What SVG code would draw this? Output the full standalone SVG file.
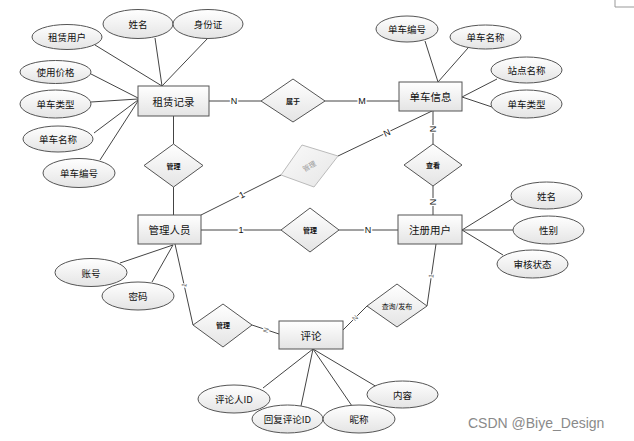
<svg xmlns="http://www.w3.org/2000/svg" width="634" height="441" viewBox="0 0 634 441">
<defs>
<linearGradient id="g" x1="0" y1="0" x2="0" y2="1">
<stop offset="0" stop-color="#ffffff"/>
<stop offset="1" stop-color="#e4e4e4"/>
</linearGradient>
<linearGradient id="g2" x1="0" y1="0" x2="1" y2="1">
<stop offset="0" stop-color="#fafafa"/>
<stop offset="1" stop-color="#e6e6e6"/>
</linearGradient>
</defs>
<style>
.e{fill:url(#g);stroke:#555;stroke-width:1}
.a{fill:url(#g);stroke:#555;stroke-width:1}
.d{fill:url(#g);stroke:#555;stroke-width:1}
.t{font-family:"Noto Sans CJK SC","Liberation Sans",sans-serif;font-size:10.5px;fill:#111;text-anchor:middle;dominant-baseline:central}
.at{font-family:"Noto Sans CJK SC","Liberation Sans",sans-serif;font-size:9.5px;fill:#111;text-anchor:middle;dominant-baseline:central}
.dt{font-family:"Noto Sans CJK SC","Liberation Sans",sans-serif;font-size:7px;font-weight:bold;fill:#111;text-anchor:middle;dominant-baseline:central}
.c line{stroke:#444;stroke-width:1}
.l{font-family:"Liberation Sans",sans-serif;font-size:9px;fill:#111;text-anchor:middle;dominant-baseline:central;paint-order:stroke;stroke:#fff;stroke-width:3}
.ls{font-family:"Liberation Sans",sans-serif;font-size:7px;fill:#666;text-anchor:middle;dominant-baseline:central;paint-order:stroke;stroke:#fff;stroke-width:2}
</style>
<rect width="634" height="441" fill="#fff"/>
<path d="M615 0 V7 H634" fill="none" stroke="#999" stroke-width="1"/>

<g id="connectors" class="c">
<line x1="95" y1="45" x2="162" y2="86"/>
<line x1="155" y1="38" x2="162" y2="86"/>
<line x1="208" y1="38" x2="162" y2="86"/>
<line x1="91" y1="74" x2="138" y2="98"/>
<line x1="91" y1="102" x2="138" y2="99"/>
<line x1="94" y1="133" x2="138" y2="100"/>
<line x1="100" y1="160" x2="138" y2="101"/>
<line x1="209" y1="101" x2="261" y2="101"/>
<line x1="325" y1="101" x2="399" y2="101"/>
<line x1="173.5" y1="116" x2="173.5" y2="144"/>
<line x1="173.5" y1="187" x2="173.5" y2="215"/>
<line x1="201" y1="215" x2="281" y2="175"/>
<line x1="338" y1="156" x2="432" y2="111"/>
<line x1="433" y1="111" x2="433" y2="144"/>
<line x1="433" y1="186" x2="433" y2="215"/>
<line x1="201" y1="230" x2="281" y2="230"/>
<line x1="339" y1="230" x2="398" y2="230"/>
<line x1="425" y1="41" x2="438" y2="82"/>
<line x1="468" y1="48" x2="438" y2="82"/>
<line x1="497" y1="79" x2="462" y2="97"/>
<line x1="492" y1="107" x2="462" y2="97"/>
<line x1="462" y1="230" x2="512" y2="199"/>
<line x1="462" y1="230" x2="513" y2="230"/>
<line x1="462" y1="230" x2="503" y2="255"/>
<line x1="436" y1="244" x2="427" y2="306"/>
<line x1="367" y1="306" x2="343" y2="330"/>
<line x1="175" y1="244" x2="193" y2="325"/>
<line x1="252" y1="325" x2="279" y2="334"/>
<line x1="120" y1="263" x2="173" y2="245"/>
<line x1="152" y1="282" x2="173" y2="245"/>
<line x1="313" y1="349" x2="263" y2="388"/>
<line x1="313" y1="349" x2="301" y2="406"/>
<line x1="313" y1="349" x2="352" y2="406"/>
<line x1="313" y1="349" x2="377" y2="387"/>
<text class="l" x="234" y="101">N</text>
<text class="l" x="362" y="101" fill="#223">M</text>
<text class="l" x="242" y="195" transform="rotate(-27 242 195)">1</text>
<text class="l" x="387" y="133" transform="rotate(-25 387 133)">N</text>
<text class="l" x="433" y="129" transform="rotate(90 433 129)">N</text>
<text class="l" x="433" y="202" transform="rotate(90 433 202)">N</text>
<text class="l" x="241" y="230">1</text>
<text class="l" x="368" y="230">N</text>
<text class="ls" x="431" y="276" transform="rotate(-82 431 276)">1</text>
<text class="ls" x="355" y="318" transform="rotate(-45 355 318)">N</text>
<text class="ls" x="184" y="285" transform="rotate(-78 184 285)">1</text>
<text class="ls" x="266" y="330" transform="rotate(-72 266 330)">N</text>
</g>

<g id="n-zulin"><rect class="e" x="138" y="86" width="71" height="30"/><text class="t" x="173.5" y="101">租赁记录</text></g>
<g id="n-danche"><rect class="e" x="399" y="82" width="63" height="29"/><text class="t" x="430.5" y="96.5">单车信息</text></g>
<g id="n-guanli"><rect class="e" x="138" y="215" width="63" height="29"/><text class="t" x="169.5" y="229.5">管理人员</text></g>
<g id="n-zhuce"><rect class="e" x="398" y="215" width="64" height="29"/><text class="t" x="430" y="229.5">注册用户</text></g>
<g id="n-pinglun"><rect class="e" x="279" y="321" width="64" height="28"/><text class="t" x="311" y="335">评论</text></g>

<g id="r-shuyu"><polygon class="d" points="261,101 293,79 325,101 293,122"/><text class="dt" x="293" y="101">属于</text></g>
<g id="r-guanli1"><polygon class="d" points="144,165.5 173.5,144 203,165.5 173.5,187"/><text class="dt" x="173.5" y="165.5">管理</text></g>
<g id="r-guanli2"><polygon points="302,145 338,156 314,187 281,175" fill="url(#g2)" stroke="#bbb" stroke-width="1"/><text class="dt" x="309" y="166" style="font-weight:normal;fill:#999" transform="rotate(-30 309 166)">管理</text></g>
<g id="r-chakan"><polygon class="d" points="404,165 433,144 462,165 433,186"/><text class="dt" x="433" y="165">查看</text></g>
<g id="r-guanli3"><polygon class="d" points="281,230 310,208 339,230 310,252"/><text class="dt" x="310" y="230">管理</text></g>
<g id="r-guanli4"><polygon class="d" points="193,325 223,304 252,325 223,347"/><text class="dt" x="223" y="325">管理</text></g>
<g id="r-chaxun"><polygon class="d" points="367,306 397,284 427,306 397,327"/><text class="dt" x="397" y="306" style="font-weight:normal">查询/发布</text></g>

<g id="a-xingming1"><ellipse class="a" cx="138" cy="24" rx="35" ry="14.5"/><text class="at" x="138" y="24">姓名</text></g>
<g id="a-shenfen"><ellipse class="a" cx="208" cy="24" rx="35" ry="14.5"/><text class="at" x="208" y="24">身份证</text></g>
<g id="a-zulinyonghu"><ellipse class="a" cx="67" cy="37" rx="35" ry="12.5"/><text class="at" x="67" y="37">租赁用户</text></g>
<g id="a-jiage"><ellipse class="a" cx="55.5" cy="72" rx="35.5" ry="11.5"/><text class="at" x="55.5" y="72">使用价格</text></g>
<g id="a-leixing1"><ellipse class="a" cx="55.5" cy="104" rx="35.5" ry="14"/><text class="at" x="55.5" y="104">单车类型</text></g>
<g id="a-mingcheng1"><ellipse class="a" cx="58" cy="139" rx="35" ry="13"/><text class="at" x="58" y="139">单车名称</text></g>
<g id="a-bianhao1"><ellipse class="a" cx="79" cy="173" rx="36" ry="14.5"/><text class="at" x="79" y="173">单车编号</text></g>
<g id="a-bianhao2"><ellipse class="a" cx="407" cy="29" rx="31" ry="13"/><text class="at" x="407" y="29">单车编号</text></g>
<g id="a-mingcheng2"><ellipse class="a" cx="485.5" cy="37" rx="35.5" ry="12"/><text class="at" x="485.5" y="37">单车名称</text></g>
<g id="a-zhandian"><ellipse class="a" cx="526.5" cy="70" rx="35.5" ry="13"/><text class="at" x="526.5" y="70">站点名称</text></g>
<g id="a-leixing2"><ellipse class="a" cx="526.5" cy="104" rx="35.5" ry="14"/><text class="at" x="526.5" y="104">单车类型</text></g>
<g id="a-xingming2"><ellipse class="a" cx="546.5" cy="195.5" rx="35.5" ry="13.5"/><text class="at" x="546.5" y="195.5">姓名</text></g>
<g id="a-xingbie"><ellipse class="a" cx="548.5" cy="230" rx="35.5" ry="14"/><text class="at" x="548.5" y="230">性别</text></g>
<g id="a-shenhe"><ellipse class="a" cx="532.5" cy="264" rx="35.5" ry="14"/><text class="at" x="532.5" y="264">审核状态</text></g>
<g id="a-zhanghao"><ellipse class="a" cx="91" cy="272.5" rx="36" ry="14"/><text class="at" x="91" y="272.5">账号</text></g>
<g id="a-mima"><ellipse class="a" cx="138" cy="296" rx="36" ry="14"/><text class="at" x="138" y="296">密码</text></g>
<g id="a-pinglunren"><ellipse class="a" cx="234" cy="399" rx="36" ry="14"/><text class="at" x="234" y="399">评论人ID</text></g>
<g id="a-huifu"><ellipse class="a" cx="287.5" cy="419" rx="35.5" ry="14"/><text class="at" x="287.5" y="419">回复评论ID</text></g>
<g id="a-nicheng"><ellipse class="a" cx="359" cy="419" rx="36" ry="14"/><text class="at" x="359" y="419">昵称</text></g>
<g id="a-neirong"><ellipse class="a" cx="402.5" cy="394.5" rx="35.5" ry="13.5"/><text class="at" x="402.5" y="394.5">内容</text></g>

<text x="468" y="428" font-family="Liberation Sans, sans-serif" font-size="14" fill="#8a8a8a">CSDN @Biye_Design</text>
</svg>
